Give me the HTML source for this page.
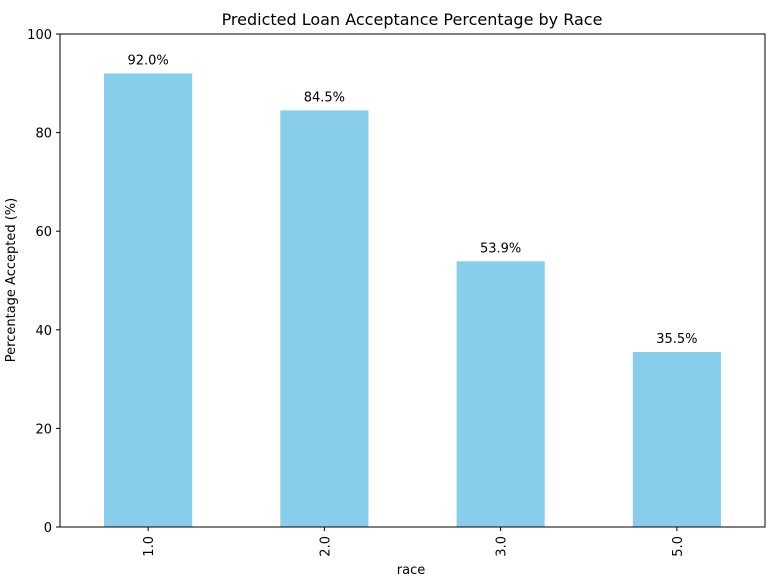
<!DOCTYPE html>
<html><head><meta charset="utf-8"><style>
body{margin:0;background:#fff;}
svg text{font-family:"DejaVu Sans","Liberation Sans",sans-serif;fill:#000;}
</style></head><body>
<svg id="chart" width="770" height="581">
<text x="412" y="25" font-size="16" text-anchor="middle">Predicted Loan Acceptance Percentage by Race</text>
<g id="bars"></g>
<g id="yticks"></g>
<g id="xticks"></g>
<rect x="60" y="34" width="705" height="493" fill="none" stroke="#000" stroke-width="1"/>
<text x="411" y="574" font-size="13" text-anchor="middle">race</text>
<text transform="translate(15,280) rotate(-90)" font-size="13" text-anchor="middle">Percentage Accepted (%)</text>
</svg>
<script>
const categories=["1.0","2.0","3.0","5.0"];
const values=[92.0,84.5,53.9,35.5];
const valueLabels=["92.0%","84.5%","53.9%","35.5%"];
const yTicks=[0,20,40,60,80,100];
const L=60,R=765,T=34,B=527,ymax=100;
const ns="http://www.w3.org/2000/svg";
const y=v=>B-(v/ymax)*(B-T);
const step=(R-L)/categories.length;
const x=i=>L+step*(i+0.5);
const bw=step*0.5;
function mk(t,a,p){const e=document.createElementNS(ns,t);for(const k in a)e.setAttribute(k,a[k]);p.appendChild(e);return e;}
const gb=document.getElementById('bars'),gy=document.getElementById('yticks'),gx=document.getElementById('xticks');
categories.forEach((c,i)=>{
 const r=mk('rect',{x:x(i)-bw/2,y:y(values[i]),width:bw,height:B-y(values[i]),fill:'#87ceeb'},gb);
 
 
 const t=mk('text',{x:x(i),y:y(values[i])-9,'font-size':13,'text-anchor':'middle'},gb);
 t.textContent=valueLabels[i];
 
 
 const tk=mk('line',{x1:x(i),x2:x(i),y1:B,y2:B+4,stroke:'#000'},gx);
 
 
 const tl=mk('text',{transform:`translate(${x(i)+5},${B+9}) rotate(-90)`,'font-size':13,'text-anchor':'end'},gx);
 tl.textContent=c;
 
 
});
yTicks.forEach(v=>{
 const tk=mk('line',{x1:L-4,x2:L,y1:y(v),y2:y(v),stroke:'#000'},gy);
 
 
 const tl=mk('text',{x:L-8,y:y(v)+5,'font-size':13,'text-anchor':'end'},gy);
 tl.textContent=v;
 
 
});
</script>
</body></html>
